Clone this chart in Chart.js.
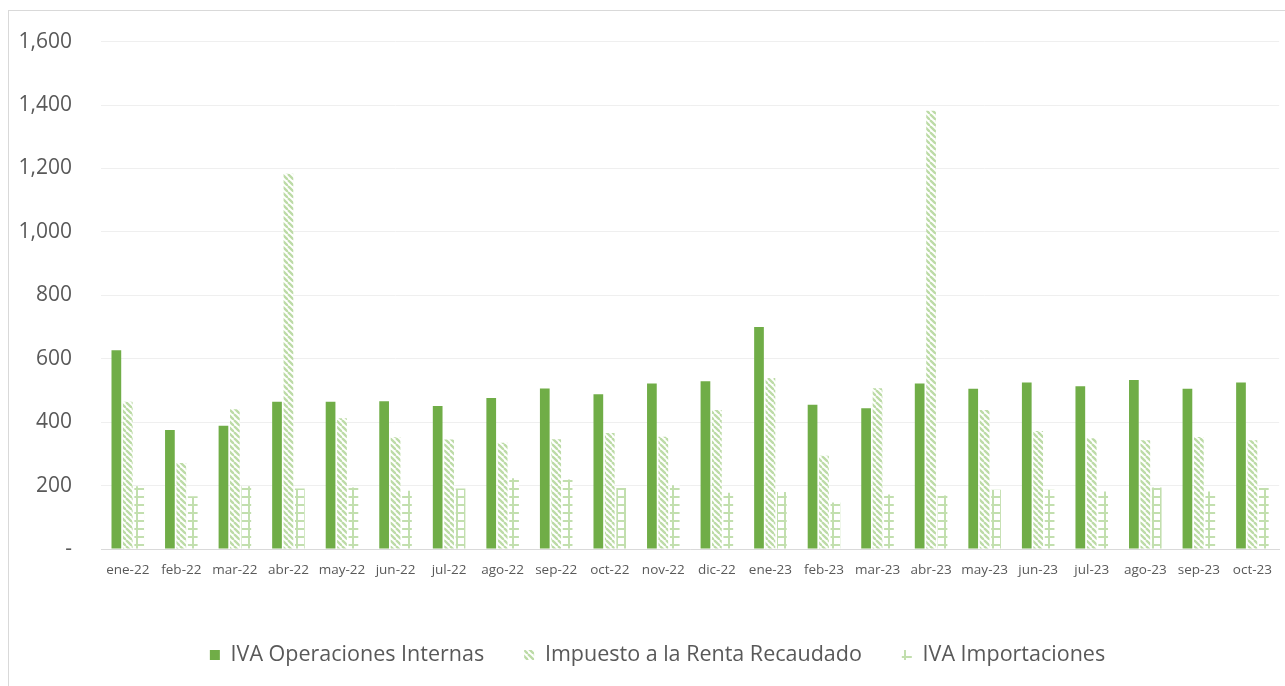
<!DOCTYPE html>
<html>
<head>
<meta charset="utf-8">
<script src="https://cdn.jsdelivr.net/npm/chart.js@4.4.1/dist/chart.umd.min.js"></script>
<style>
  html, body { margin: 0; padding: 0; background: #ffffff; overflow: hidden; }
  #frame { position: absolute; left: 8px; top: 10px; width: 1300px; height: 700px;
           border-left: 1px solid #d9d9d9; border-top: 1px solid #d9d9d9; }
  #wrap { position: absolute; left: 0; top: 0; width: 1285px; height: 686px; }
</style>
</head>
<body>
<div id="frame"></div>
<div id="wrap"><canvas id="c" width="1285" height="686"></canvas></div>
<script>
const categories = ["ene-22","feb-22","mar-22","abr-22","may-22","jun-22","jul-22","ago-22","sep-22","oct-22","nov-22","dic-22",
                    "ene-23","feb-23","mar-23","abr-23","may-23","jun-23","jul-23","ago-23","sep-23","oct-23"];
const ivaInternas = [627, 375, 389, 464, 464, 466, 451, 476, 506, 488, 522, 529, 700, 455, 444, 522, 505, 525, 513, 533, 505, 525];
const rentaRecaudado = [464, 271, 441, 1183, 412, 352, 345, 335, 346, 366, 354, 438, 539, 294, 507, 1382, 438, 372, 349, 343, 353, 343];
const ivaImportaciones = [198, 166, 198, 191, 194, 184, 191, 223, 219, 192, 201, 177, 180, 147, 172, 169, 187, 187, 181, 194, 181, 192];
const seriesNames = ["IVA Operaciones Internas", "Impuesto a la Renta Recaudado", "IVA Importaciones"];
const yTicks = [0, 200, 400, 600, 800, 1000, 1200, 1400, 1600];

const FONT = "'Open Sans', sans-serif";
const TEXT = "#595959";

function diagPattern() {
  const s = 6, c = document.createElement('canvas');
  c.width = s; c.height = s;
  const g = c.getContext('2d');
  g.fillStyle = '#ffffff'; g.fillRect(0, 0, s, s);
  g.strokeStyle = '#bcdba6'; g.lineWidth = 2.3;
  for (let k = -s; k <= s; k += s) {
    g.beginPath(); g.moveTo(k, 0); g.lineTo(k + s, s); g.stroke();
  }
  return g.createPattern(c, 'repeat');
}
function gridPattern() {
  const s = 8, c = document.createElement('canvas');
  c.width = s; c.height = s;
  const g = c.getContext('2d');
  g.fillStyle = '#ffffff'; g.fillRect(0, 0, s, s);
  g.fillStyle = '#c2dfae';
  g.fillRect(0, 0, 2, s);
  g.fillRect(0, 0, s, 2);
  return g.createPattern(c, 'repeat');
}

// shift the centred legend row slightly to the right, as in the original
const legendShift = {
  id: 'legendShift',
  afterLayout(chart) { if (chart.legend) { chart.legend.left += 30; } }
};

const ctx = document.getElementById('c').getContext('2d');
new Chart(ctx, {
  type: 'bar',
  data: {
    labels: categories,
    datasets: [
      { label: seriesNames[0], data: ivaInternas, backgroundColor: '#70ad47', borderWidth: 0 },
      { label: seriesNames[1], data: rentaRecaudado, backgroundColor: diagPattern(), borderWidth: 0 },
      { label: seriesNames[2], data: ivaImportaciones, backgroundColor: gridPattern(), borderWidth: 0 }
    ]
  },
  plugins: [legendShift],
  options: {
    responsive: false,
    animation: false,
    devicePixelRatio: 1,
    layout: { padding: { top: 38, right: 0, bottom: 10.25, left: 0 } },
    datasets: { bar: { categoryPercentage: 0.64, barPercentage: 0.85 } },
    plugins: {
      tooltip: { enabled: false },
      legend: {
        position: 'bottom',
        labels: {
          boxWidth: 10, boxHeight: 10, padding: 40,
          color: TEXT, font: { family: FONT, size: 21.5 }
        }
      }
    },
    scales: {
      x: {
        grid: { display: false, drawTicks: false },
        border: { display: true, color: '#d9d9d9', width: 1 },
        ticks: { color: TEXT, font: { family: FONT, size: 13.5 }, padding: 13, maxRotation: 0, autoSkip: false },
        afterFit: s => { s.height = 55.25; }
      },
      y: {
        min: 0, max: 1600,
        afterBuildTicks: s => { s.ticks = yTicks.map(v => ({ value: v })); },
        grid: { color: '#efefef', lineWidth: 1, drawTicks: false },
        border: { display: false },
        ticks: {
          color: TEXT, font: { family: FONT, size: 21 }, padding: 29,
          callback: v => v === 0 ? '-' : Number(v).toLocaleString('en-US')
        },
        afterFit: s => { s.width = 101; }
      }
    }
  }
});
</script>
</body>
</html>
